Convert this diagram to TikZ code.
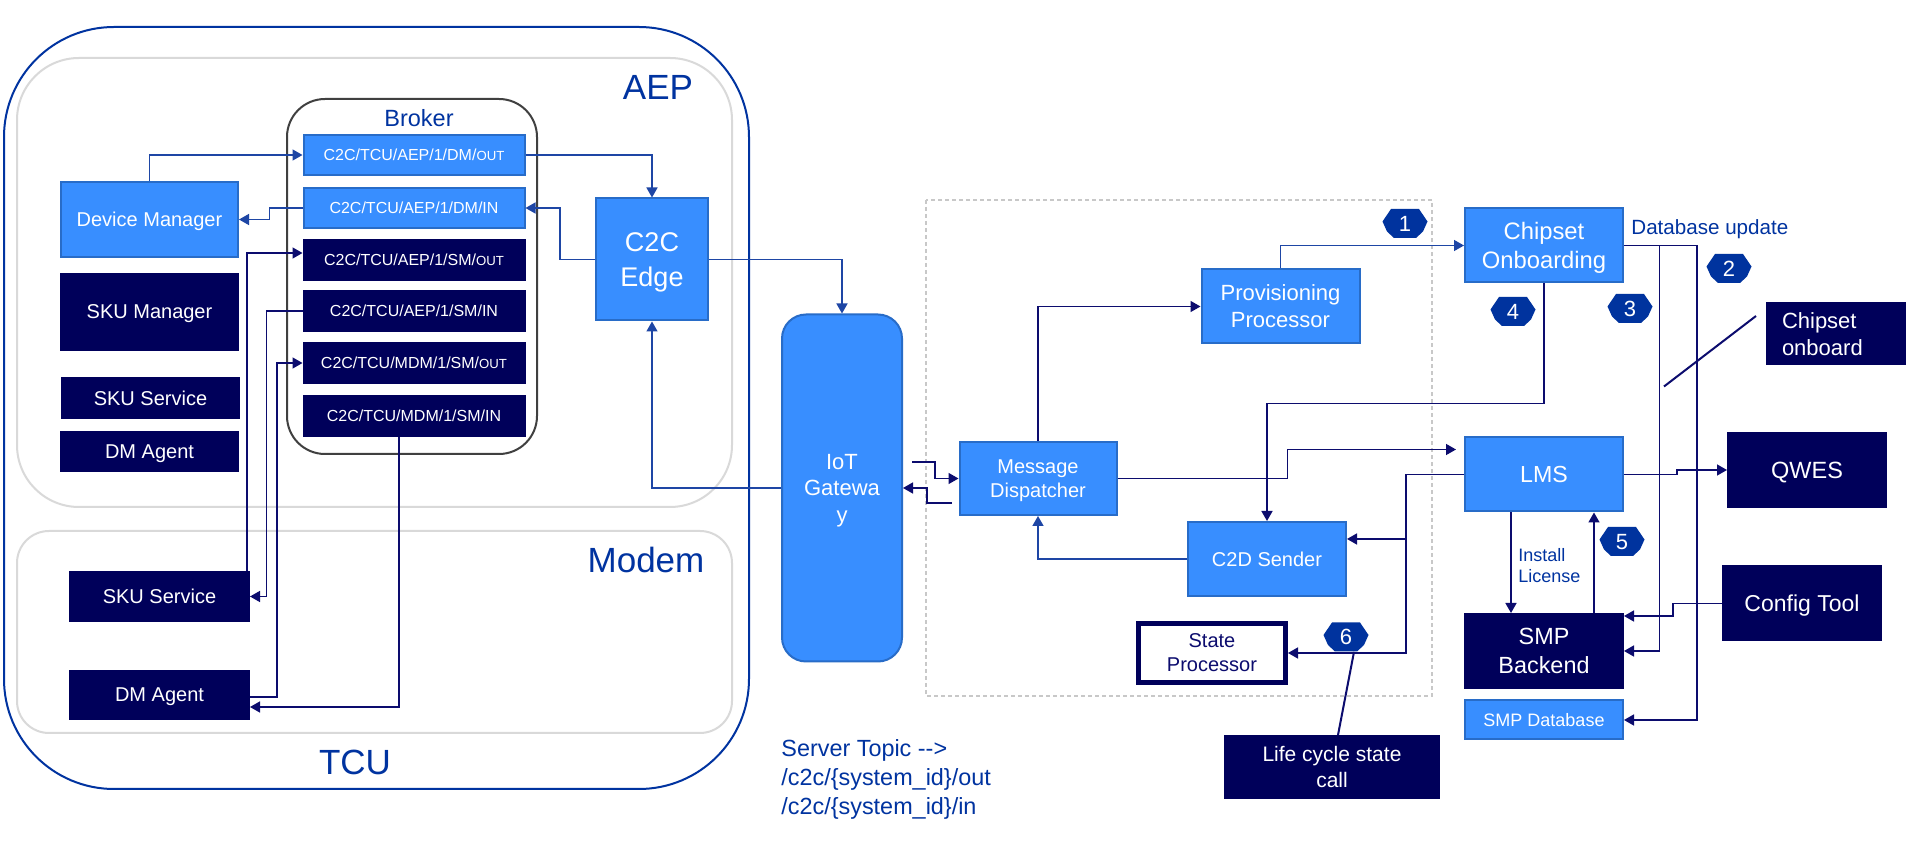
\documentclass[tikz,border=0pt]{standalone}
\usepackage{fontspec}
\setmainfont{Liberation Sans}
\usetikzlibrary{arrows.meta}

\definecolor{lightblue}{RGB}{56,142,255}
\definecolor{lightedge}{RGB}{40,108,200}
\definecolor{navy}{RGB}{0,0,90}
\definecolor{tcublue}{RGB}{0,51,160}
\definecolor{linkblue}{RGB}{30,70,165}
\definecolor{linknavy}{RGB}{12,12,110}
\definecolor{panelgray}{RGB}{217,217,217}
\definecolor{brokergray}{RGB}{64,64,64}
\definecolor{dashgray}{RGB}{200,200,200}
\definecolor{badgeblue}{RGB}{0,51,158}

\newcommand{\fsize}[2]{\fontsize{#1pt}{#2pt}\selectfont}
\newcommand{\outsc}{{\fsize{6.6}{8}OUT}}
% numbered step marker: name, x, y, number
\newcommand{\stepbadge}[4]{%
  \fill[badgeblue] (#2,#3) +(-14,-14.5) -- +(14,-14.5) -- +(22.5,-2) -- +(18,8)
    -- +(11,14.5) -- +(-11,14.5) -- +(-18,8) -- +(-22.5,-2) -- cycle;
  \node[badgetext] (#1) at (#2,#3) {#4};}

\begin{document}
\begin{tikzpicture}[x=0.5pt, y=-0.5pt,
    module/.style={rectangle, inner sep=0pt, align=center, text=white, text depth=0pt},
    lightmod/.style={module, fill=lightblue, draw=lightedge, line width=1pt},
    darkmod/.style={module, fill=navy, draw=navy, line width=1pt},
    boxsize/.style 2 args={minimum width=#1*0.5pt, minimum height=#2*0.5pt},
    topicmod/.style={boxsize={221}{40}, font=\fsize{8}{10}},
    arrow/.style={-{Triangle[length=5pt, width=5.5pt]}, line width=0.75pt},
    bluearrow/.style={arrow, linkblue},
    navyarrow/.style={arrow, linknavy},
    pointer/.style={linknavy, line width=1pt},
    badgetext/.style={text=white, inner sep=0pt, minimum width=22.5pt,
      minimum height=14.5pt, text depth=0pt, font=\fsize{11}{13}},
    tag/.style={text=tcublue, inner sep=0pt, align=left},
  ]
  \useasboundingbox[fill=white] (0,0) rectangle (1919,849);

  % containers
  \draw[tcublue, line width=1pt, rounded corners=55pt] (4,27) rectangle (749,789);
  \draw[panelgray, line width=1pt, rounded corners=31pt] (17,58) rectangle (732,507);
  \draw[panelgray, line width=1pt, rounded corners=16pt] (17,531) rectangle (732,733);
  \draw[brokergray, line width=1pt, rounded corners=19pt] (287,99) rectangle (537,454);
  \draw[dashgray, line width=0.75pt, dash pattern=on 2pt off 1.5pt] (926,200) rectangle (1432,696);

  \node[tag, font=\fsize{17.5}{21}] (aeplbl) at (658,87) {AEP};
  \node[tag, font=\fsize{17.5}{21}] (modemlbl) at (646,560) {Modem};
  \node[tag, font=\fsize{17.5}{21}] (tculbl) at (355,762) {TCU};
  \node[tag, font=\fsize{11.75}{14}] (brokerlbl) at (419,118) {Broker};

  % TCU side
  \node[lightmod, boxsize={177}{75}, font=\fsize{10}{12}] (devmgr) at (149.5,219.5) {Device Manager};
  \node[darkmod, boxsize={177}{76}, font=\fsize{10}{12}] (skumgr) at (149.5,312) {SKU Manager};
  \node[darkmod, boxsize={177}{40}, font=\fsize{10}{12}] (skusvcaep) at (150.5,398) {SKU Service};
  \node[darkmod, boxsize={177}{39}, font=\fsize{10}{12}] (dmagentaep) at (149.5,452) {DM Agent};
  \node[darkmod, boxsize={179}{49}, font=\fsize{10}{12}] (skusvcmdm) at (159.5,596.5) {SKU Service};
  \node[darkmod, boxsize={179}{48}, font=\fsize{10}{12}] (dmagentmdm) at (159.5,695) {DM Agent};

  % broker topics
  \node[lightmod, topicmod] (dmout) at (414,155) {C2C/TCU/AEP/1/DM/\outsc};
  \node[lightmod, topicmod] (dmin) at (414,208) {C2C/TCU/AEP/1/DM/IN};
  \node[darkmod, topicmod] (aepsmout) at (414,260) {C2C/TCU/AEP/1/SM/\outsc};
  \node[darkmod, topicmod] (aepsmin) at (414,311) {C2C/TCU/AEP/1/SM/IN};
  \node[darkmod, topicmod] (mdmsmout) at (414,363) {C2C/TCU/MDM/1/SM/\outsc};
  \node[darkmod, topicmod] (mdmsmin) at (414,416) {C2C/TCU/MDM/1/SM/IN};

  \node[lightmod, boxsize={112}{122}, font=\fsize{13.5}{17.5}] (c2cedge) at (652,259.5) {C2C\\Edge};

  % cloud side
  \node[lightmod, rounded corners=12pt, boxsize={120}{347}, font=\fsize{11}{13.25}]
    (iotgw) at (842,488) {IoT\\Gatewa\\y};
  \node[lightmod, boxsize={157}{73}, font=\fsize{10}{12}] (dispatch) at (1038,478.5) {Message\\Dispatcher};
  \node[lightmod, boxsize={158}{74}, font=\fsize{11}{13.5}] (provproc) at (1280.5,306.5) {Provisioning\\Processor};
  \node[lightmod, boxsize={158}{74}, font=\fsize{10}{12}] (c2dsend) at (1267,559) {C2D Sender};
  \node[module, fill=white, draw=navy, line width=2.5pt, text=linknavy, boxsize={147}{59},
    font=\fsize{10}{12}] (stateproc) at (1212,653) {State\\Processor};
  \node[darkmod, boxsize={214}{62}, font=\fsize{10.5}{13.3}] (lifecycle) at (1332,767) {Life cycle state\\call};

  \node[lightmod, boxsize={158}{74}, font=\fsize{11.9}{14.5}] (chipob) at (1544,245.5) {Chipset\\Onboarding};
  \node[lightmod, boxsize={158}{74}, font=\fsize{11.6}{14}] (lms) at (1544,474.5) {LMS};
  \node[darkmod, boxsize={158}{74}, font=\fsize{11.7}{14.3}] (smpback) at (1544,651) {SMP\\Backend};
  \node[lightmod, boxsize={158}{39}, font=\fsize{9}{11}] (smpdb) at (1544,720) {SMP Database};
  \node[darkmod, boxsize={158}{74}, font=\fsize{11.75}{14}] (qwes) at (1807,470) {QWES};
  \node[darkmod, boxsize={158}{74}, font=\fsize{11.5}{14}] (cfgtool) at (1802,603.5) {Config Tool};
  \node[rectangle, fill=navy, draw=navy, line width=1pt, text=white, text width=54pt,
    inner xsep=7.5pt, inner ysep=0pt, align=left, minimum height=30.5pt,
    font=\fsize{11}{13.75}] (chipon) at (1836,334) {Chipset\\onboard};

  \node[tag, anchor=west, font=\fsize{10.3}{12.4}] (dbupd) at (1631,229) {Database update};
  \node[tag, anchor=west, font=\fsize{9}{10.35}] (instlic) at (1518,565.5) {Install\\License};
  \node[tag, anchor=west, font=\fsize{11.7}{14.5}] (srvtopic) at (781,779)
    {Server Topic -{}->\\/c2c/\{system\_id\}/out\\/c2c/\{system\_id\}/in};

  \stepbadge{b1}{1405}{223.5}{1}
  \stepbadge{b2}{1729}{268.5}{2}
  \stepbadge{b3}{1630}{308.5}{3}
  \stepbadge{b4}{1513}{311.5}{4}
  \stepbadge{b5}{1622}{541.5}{5}
  \stepbadge{b6}{1346}{637}{6}

  % AEP links
  \draw[bluearrow] (devmgr.north) |- (dmout.west);
  \draw[bluearrow] (dmout.east) -| (c2cedge.north);
  \draw[bluearrow] (dmin.west) -- ++(-33,0) |- (devmgr.east);
  \draw[bluearrow] (c2cedge.west) -- ++(-35,0) |- (dmin.east);
  \draw[bluearrow] (c2cedge.east) -| (iotgw.north);
  \draw[bluearrow] (iotgw.west) -| (c2cedge.south);

  % modem links
  \draw[navyarrow] ([xshift=-1.5pt]skusvcmdm.north east) |- ([yshift=3.5pt]aepsmout.west);
  \draw[navyarrow] (aepsmin.west) -- ++(-36,0) |- (skusvcmdm.east);
  \draw[navyarrow] ([yshift=-1pt]dmagentmdm.east) -- ++(27,0) |- (mdmsmout.west);
  \draw[navyarrow] ([xshift=-7.5pt]mdmsmin.south) |- ([yshift=-6pt]dmagentmdm.east);

  % gateway and dispatcher
  \coordinate (gwout) at (912,462);
  \coordinate (gwin) at (952,503);
  \draw[navyarrow] (gwout) -- ++(23,0) |- (dispatch.west);
  \draw[navyarrow] (gwin) -- ++(-25,0) |- (iotgw.east);
  \draw[navyarrow] (dispatch.north) |- (provproc.west);
  \draw[bluearrow] (provproc.north) |- (chipob.west);
  \draw[bluearrow] (c2dsend.west) -| (dispatch.south);
  \draw[navyarrow] (dispatch.east) -- ++(170,0) |- ([shift={(-8,-25)}]lms.west);
  \draw[navyarrow] (chipob.south) -- ++(0,120) -| (c2dsend.north);
  \draw[navyarrow] (lms.west) -- ++(-58,0) coordinate (lmsfork) |- (stateproc.east);
  \draw[navyarrow] (lmsfork) |- ([yshift=10pt]c2dsend.east);

  % backend links
  \draw[navyarrow] (chipob.east) -- ++(73,0) |- (smpdb.east);
  \draw[navyarrow] (chipob.east) -- ++(35.5,0) |- (smpback.east);
  \draw[navyarrow] (lms.east) -- ++(53,0) |- (qwes.west);
  \draw[navyarrow] ([xshift=-16.5pt]lms.south) -- ([xshift=-16.5pt]smpback.north);
  \draw[navyarrow] ([xshift=25pt]smpback.north) -- ([xshift=25pt]lms.south);
  \draw[navyarrow] (cfgtool.west) -- ++(-49,0) |- ([yshift=17.5pt]smpback.east);

  % callouts
  \coordinate (onbtip) at (1664,386.5);
  \draw[pointer] ([shift={(-10,-18)}]chipon.west) -- (onbtip);
  \draw[pointer] ([xshift=4pt]b6.south) -- ([xshift=3pt]lifecycle.north);
\end{tikzpicture}
\end{document}
